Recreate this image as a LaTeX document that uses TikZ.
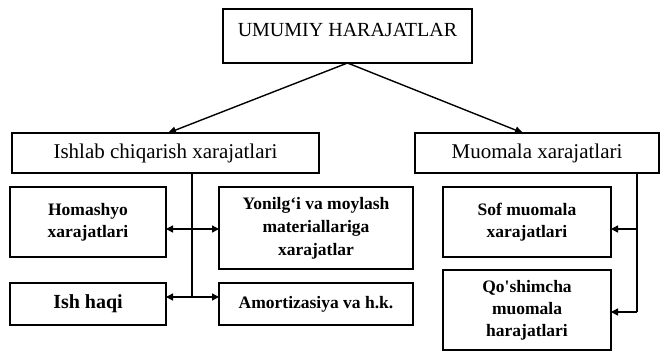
\documentclass[tikz,border=0pt]{standalone}
\usepackage{fontspec}
\setmainfont{Liberation Serif}
\usetikzlibrary{arrows.meta}
\begin{document}
\begin{tikzpicture}[x=1pt,y=-1pt,
  box/.style={draw,line width=1.2pt,inner sep=0pt,outer sep=0pt,align=center},
  big/.style={font=\fontsize{21}{24}\selectfont},
  sub/.style={font=\fontsize{17.5}{22}\selectfont\bfseries},
  conn/.style={line width=1.4pt},
  arr/.style={line width=1.4pt,-{Triangle[length=7pt,width=7pt]}}]
\useasboundingbox (0,0) rectangle (664,351);
% top box
\node[box,minimum width=249pt,minimum height=54pt] (top) at (347.5,36) {};
\node[font=\fontsize{20}{24}\selectfont,inner sep=0pt,anchor=base] (toptext) at ([yshift=-27pt]top.north) {UMUMIY HARAJATLAR};
% second level
\node[box,big,minimum width=307pt,minimum height=40pt] (ishlab) at (165.5,153) {Ishlab chiqarish xarajatlari};
\node[box,big,minimum width=244pt,minimum height=40pt] (muomala) at (537,153) {Muomala xarajatlari};
% left sub boxes
\node[box,sub,minimum width=156pt,minimum height=70pt] (homashyo) at (88,222) {Homashyo\\xarajatlari};
\node[box,sub,minimum width=194pt,minimum height=82pt,font=\fontsize{17.5}{23}\selectfont\bfseries] (yonilgi) at (316,228) {Yonilg‘i va moylash\\materiallariga\\xarajatlar};
\node[box,font=\fontsize{20}{24}\selectfont\bfseries,minimum width=156pt,minimum height=42pt] (ishhaqi) at (88,304) {Ish haqi};
\node[box,sub,minimum width=194pt,minimum height=42pt] (amort) at (316,304) {Amortizasiya va h.k.};
% right sub boxes
\node[box,sub,minimum width=168pt,minimum height=70pt] (sof) at (527,222) {Sof muomala\\xarajatlari};
\node[box,sub,minimum width=168pt,minimum height=80pt] (qosh) at (527,310) {Qo\textquotesingle shimcha\\muomala\\harajatlari};
% connectors from top
\draw[line width=1.4pt,-{Triangle[length=8pt,width=7pt]}] (top.south) -- ([xshift=2.5pt]ishlab.north);
\draw[line width=1.4pt,-{Triangle[length=8pt,width=7pt]}] (top.south) -- ([xshift=-14pt]muomala.north);
% left tree
\coordinate (j1) at (192,229);
\coordinate (j2) at (192,297);
\draw[conn] (ishlab.south -| j1) -- (j2);
\draw[arr] (j1) -- (j1 -| homashyo.east);
\draw[arr] (j1) -- (j1 -| yonilgi.west);
\draw[arr] (j2) -- (j2 -| ishhaqi.east);
\draw[arr] (j2) -- (j2 -| amort.west);
% right tree
\coordinate (k1) at (637,229);
\coordinate (k2) at (637,312);
\draw[conn] (muomala.south -| k1) -- (k2);
\draw[arr] (k1) -- (k1 -| sof.east);
\draw[arr] (k2) -- (k2 -| qosh.east);
\end{tikzpicture}
\end{document}
